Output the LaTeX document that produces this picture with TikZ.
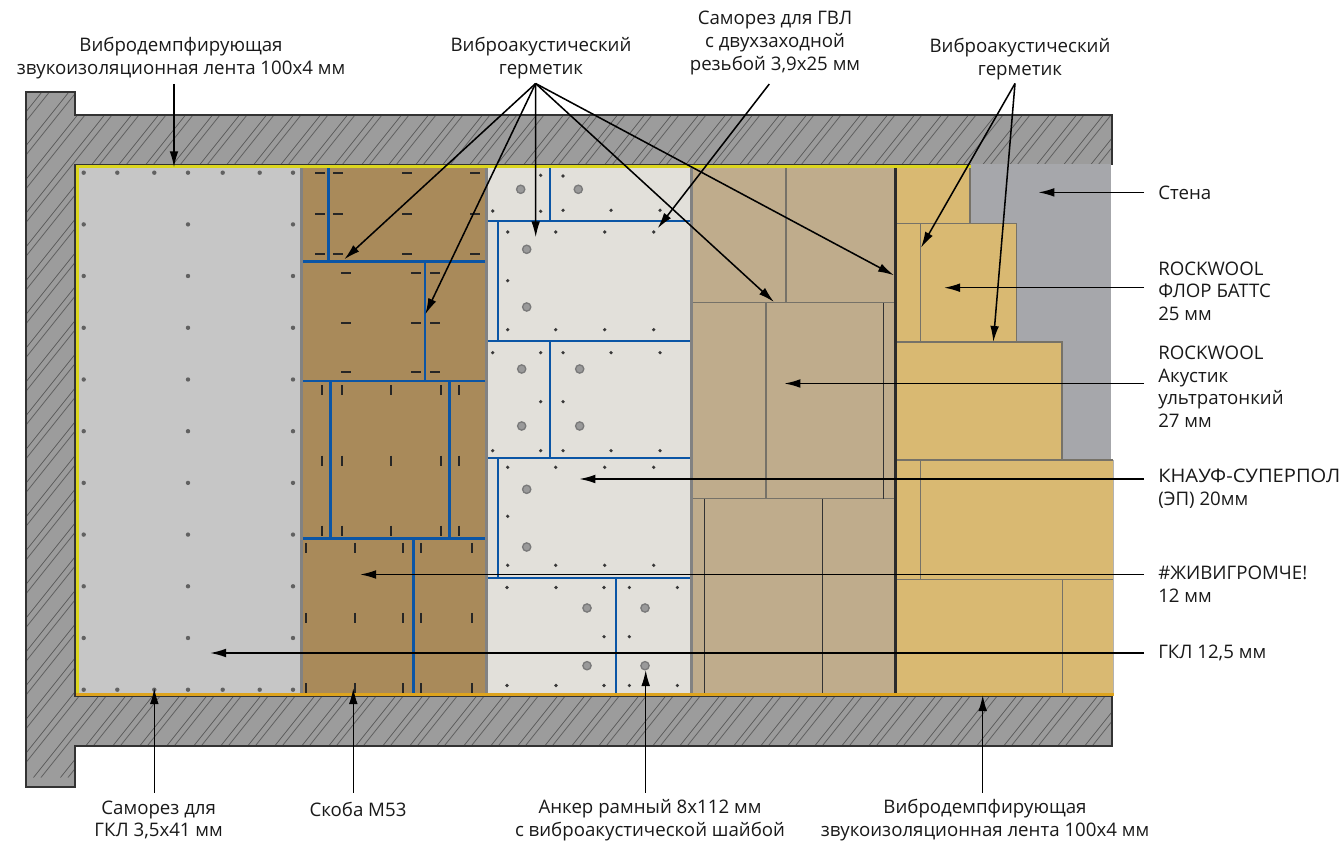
\documentclass[tikz,border=0pt]{standalone}
\usepackage{fontspec}
\setmainfont{Open Sans}
\usetikzlibrary{arrows.meta}
\definecolor{wallfill}{HTML}{9C9C9C}
\definecolor{wallline}{HTML}{333333}
\definecolor{hatchline}{HTML}{5C5C5C}
\definecolor{gklfill}{HTML}{C6C6C6}
\definecolor{sepgrey}{HTML}{828282}
\definecolor{brownfill}{HTML}{A98A5A}
\definecolor{panelfill}{HTML}{E2E0DA}
\definecolor{tanfill}{HTML}{BFAC8C}
\definecolor{woolfill}{HTML}{D9B972}
\definecolor{backwall}{HTML}{A6A7AB}
\definecolor{sealblue}{HTML}{0B55A5}
\definecolor{stripyellow}{HTML}{DCD61E}
\definecolor{striporange}{HTML}{DEA41E}
\definecolor{seamgrey}{HTML}{767268}
\definecolor{bardark}{HTML}{2B2B2B}
\definecolor{anchorout}{HTML}{7A7A7A}
\definecolor{anchorin}{HTML}{9A9A9A}
\tikzset{
  x=0.75pt,y=-0.75pt,
  arr/.style={black,line width=1.15pt,-{Latex[length=12pt,width=6.5pt]}},
  lblc/.style={inner sep=0pt,align=center,text=black!90,font=\fontsize{14}{16.9}\selectfont},
  lbll/.style={inner sep=0pt,align=left,anchor=west,text=black!90,font=\fontsize{14}{16.9}\selectfont},
  seam/.style={seamgrey,line width=0.8pt},
  seamedge/.style={black!30,line width=0.7pt},
  seamdark/.style={black!80,line width=0.7pt},
  sealb/.style={sealblue,line width=2pt},
  sealp/.style={sealblue,line width=1.6pt},
  staple/.style={black!85,line width=1.3pt},
  hatch/.style={hatchline,line width=0.55pt},
}
\begin{document}
\begin{tikzpicture}
\useasboundingbox (0,0) rectangle (1340,841);
% wall section
\def\wallpath{(26,92) -- (75,92) -- (75,115) -- (1112,115) -- (1112,164.5) -- (75,164.5) -- (75,696.5) -- (1112,696.5) -- (1112,746) -- (75,746) -- (75,787) -- (26,787) -- cycle}
\fill[wallfill] \wallpath;
\begin{scope}
  \clip \wallpath;
  \foreach \k in {-2,...,63}{
    \draw[hatch] ({85+27*\k},115) ++ (90,-112.5) -- ++(-620,775);
    \draw[hatch] ({77.5+27*\k},115) ++ (90,-112.5) -- ++(-620,775);
  }
\end{scope}
\draw[wallline,line width=1.1pt,line join=miter] \wallpath;
% back wall
\fill[backwall] (970,164.5) rectangle (1111,460);
% gypsum board
\fill[gklfill] (79,168) rectangle (301,693.5);
\foreach \y in {172.7,224.4,276,327.8,379.5,431.2,482.9,534.6,586.3,638,689.7}
  \foreach \x in {83.7,188,293}
    \fill[black!62] (\x,\y) circle[radius=1.65pt];
\foreach \y in {172.7,689.7}
  \foreach \x in {117.3,154.3,222.7,259.7}
    \fill[black!62] (\x,\y) circle[radius=1.65pt];
% brown layer
\fill[brownfill] (303,168) rectangle (486,693.5);
\fill[sepgrey] (300.3,168) rectangle (303,693.5);
\fill[sepgrey] (485.2,168) rectangle (488,693.5);
\draw[sealb] (328.3,168) -- (328.3,261.3);
\draw[sealb] (425,261.3) -- (425,381);
\draw[sealb] (330.7,381) -- (330.7,538.3);
\draw[sealb] (449.7,381) -- (449.7,538.3);
\draw[sealb] (413.3,538.3) -- (413.3,693.5);
\foreach \y in {261.3,381,538.3}
  \draw[sealb] (303,\y) -- (485,\y);
\foreach \y in {172.7,213.7,254}
  \foreach \x in {320,338.3,407,475}
    \draw[staple] (\x-5,\y) -- (\x+5,\y);
\foreach \y in {273,323,372}
  \foreach \x in {346,416,435}
    \draw[staple] (\x-5,\y) -- (\x+5,\y);
\foreach \y in {390,460.7,530.7}
  \foreach \x in {322,342,391,441,459}
    \draw[staple] (\x,\y-5) -- (\x,\y+5);
\foreach \y in {548,618,688}
  \foreach \x in {306,355,403,421,472}
    \draw[staple] (\x,\y-5) -- (\x,\y+5);
% panel layer
\fill[panelfill] (488,168) rectangle (690,693.5);
\fill[sepgrey] (690,168) rectangle (692.7,693.5);
\draw[sealp] (550,168) -- (550,220.7);
\draw[sealp] (498.3,220.7) -- (498.3,340.7);
\draw[sealp] (550,340.7) -- (550,457.7);
\draw[sealp] (498.3,457.7) -- (498.3,577.7);
\draw[sealp] (616,577.7) -- (616,693.5);
\foreach \y in {220.7,340.7,457.7,577.7}
  \draw[sealp] (488,\y) -- (690,\y);
\foreach \x/\y in {540.7/175.3,563/176,492.7/211,540.7/211.3,563/210.3,611/210.3,660/210.3,
  507.7/232,555.7/232,604.7/232,653.7/232,507.7/280.7,507.7/329.7,555.7/329.7,604.7/329.7,653.7/329.7,
  492.7/352.7,540.7/352.7,563/352.7,611/352.7,660/352.7,540.7/401.7,563/401.7,
  492.7/450.7,540.7/450.7,563/450.7,611/450.7,660/450.7,
  507.7/467.3,555.7/467.3,604.7/467.3,653.7/467.3,507.7/516.3,507.7/565.3,555.7/565.3,604.7/565.3,653.7/565.3,
  507/587.5,556/587.5,604/587.5,629.3/587.5,677.3/587.5,604/636.7,629.3/636.7,
  507/685.5,556/685.5,604/685.5,629.3/685.5,677.3/685.5}
  \fill[black!78] (\x,\y) circle[radius=1.35pt];
\foreach \x/\y in {520.7/189.3,578.3/189.3,526.7/249.3,526.7/307,521.7/369,579.7/369,521.7/426,579.7/426,
  526.7/489.3,526.7/547,587/608,645/608,587/665.7,645/665.7}
  \draw[anchorout,fill=anchorin,line width=1pt] (\x,\y) circle[radius=3.1pt];
% tan layer
\fill[tanfill] (692.7,168) rectangle (894,693.5);
\draw[seam] (692.7,302.7) -- (894,302.7);
\draw[seam] (692.7,498.7) -- (894,498.7);
\draw[seam] (786,168) -- (786,302.7);
\draw[seam] (766,302.7) -- (766,498.7);
\draw[seamdark] (883.3,302.7) -- (883.3,498.7);
\draw[seamdark] (704.5,498.7) -- (704.5,693.5);
\draw[seamdark] (822.7,498.7) -- (822.7,693.5);
% wool layer
\fill[woolfill] (897,168) rectangle (970,224);
\fill[woolfill] (897,223) rectangle (1016.7,342);
\fill[woolfill] (897,342) rectangle (1062,460);
\fill[woolfill] (897,460) rectangle (1113,693.5);
\draw[seam] (970,164.5) -- (970,223.5) -- (1016.7,223.5) -- (1016.7,342) -- (1062,342) -- (1062,460) -- (1113,460);
\draw[seamedge] (1113,460) -- (1113,693.5);
\draw[seam] (897,223.5) -- (970,223.5);
\draw[seam] (897,342) -- (1016.7,342);
\draw[seam] (897,460) -- (1062,460);
\draw[seam] (897,579.5) -- (1113,579.5);
\draw[seam] (920.5,223.5) -- (920.5,342);
\draw[seam] (920.5,460) -- (920.5,579.5);
\draw[seam] (1062.7,579.5) -- (1062.7,693.5);
\fill[bardark] (894,167) rectangle (897,693.5);
% tapes
\fill[stripyellow] (75.7,165) rectangle (970.5,168);
\fill[stripyellow] (75.7,165) rectangle (79,693.5);
\fill[striporange] (75.7,693.3) rectangle (1114,696);
% labels
\node[lblc] (topTape) at (181,58) {Вибродемпфирующая\\звукоизоляционная лента 100х4 мм};
\node[lblc] (topSeal) at (541,58) {Виброакустический\\герметик};
\node[lblc] (topScrew) at (775,43) {Саморез для ГВЛ\\с двухзаходной\\резьбой 3,9х25 мм};
\node[lblc] (rightSeal) at (1020,59) {Виброакустический\\герметик};
\node[lbll] (wallLbl) at (1158,192.7) {Стена};
\node[lbll] (flor) at (1158,291) {ROCKWOOL\\ФЛОР БАТТС\\25 мм};
\node[lbll] (acoustic) at (1158,386.7) {ROCKWOOL\\Акустик\\ультратонкий\\27 мм};
\node[lbll] (knauf) at (1158,488.7) {{\addfontfeature{FakeStretch=1.08}КНАУФ-СУПЕРПОЛ}\\(ЭП) 20мм};
\node[lbll] (zhivi) at (1158,584) {\#ЖИВИГРОМЧЕ!\\12 мм};
\node[lbll] (gkl) at (1158,653) {ГКЛ 12,5 мм};
\node[lblc] (botScrew) at (158.7,820) {Саморез для\\ГКЛ 3,5х41 мм};
\node[lblc] (botStaple) at (358,809) {Скоба М53};
\node[lblc] (botAnchor) at (650,820) {Анкер рамный 8х112 мм\\с виброакустической шайбой};
\node[lblc] (botTape) at (985,820) {Вибродемпфирующая\\звукоизоляционная лента 100х4 мм};
% free ends
\coordinate (sealA) at (535.6,83.5);
\coordinate (sealB) at (1015,83.5);
\coordinate (tapeTail) at (174,84);
\coordinate (screwTail) at (769.3,84);
\coordinate (tA) at (1144,192.4);
\coordinate (tB) at (1144,287.7);
\coordinate (tC) at (1144,383.5);
\coordinate (tD) at (1144,479);
\coordinate (tE) at (1144,574.5);
\coordinate (tF) at (1144,653);
\coordinate (bA) at (154.3,792.7);
\coordinate (bB) at (353.3,792.7);
\coordinate (bC) at (645.7,792.7);
\coordinate (bD) at (982.7,792.7);
\coordinate (hTape) at (174,167.3);
\coordinate (hS1) at (344.3,259.3);
\coordinate (hS2) at (425.3,314.3);
\coordinate (hS3) at (535.7,237.3);
\coordinate (hS4) at (774,302);
\coordinate (hS5) at (894,275.3);
\coordinate (hScrew) at (657.7,228.3);
\coordinate (hR1) at (921,247.7);
\coordinate (hR2) at (993.3,342);
\coordinate (hWall) at (1038.3,192.4);
\coordinate (hFlor) at (944,287.7);
\coordinate (hAc) at (784.3,383.5);
\coordinate (hKn) at (579.3,479);
\coordinate (hZh) at (360,574.5);
\coordinate (hGk) at (210,653);
\coordinate (hB1) at (154.3,688);
\coordinate (hB2) at (353.3,688);
\coordinate (hB3) at (645.7,670);
\coordinate (hB4) at (982.7,695);
% leaders
\draw[arr] (tapeTail) -- (hTape);
\foreach \h in {hS1,hS2,hS3,hS4,hS5} \draw[arr] (sealA) -- (\h);
\draw[arr] (screwTail) -- (hScrew);
\draw[arr] (sealB) -- (hR1);
\draw[arr] (sealB) -- (hR2);
\draw[arr] (tA) -- (hWall);
\draw[arr] (tB) -- (hFlor);
\draw[arr] (tC) -- (hAc);
\draw[arr] (tD) -- (hKn);
\draw[arr] (tE) -- (hZh);
\draw[arr] (tF) -- (hGk);
\draw[arr] (bA) -- (hB1);
\draw[arr] (bB) -- (hB2);
\draw[arr] (bC) -- (hB3);
\draw[arr] (bD) -- (hB4);
\end{tikzpicture}
\end{document}
